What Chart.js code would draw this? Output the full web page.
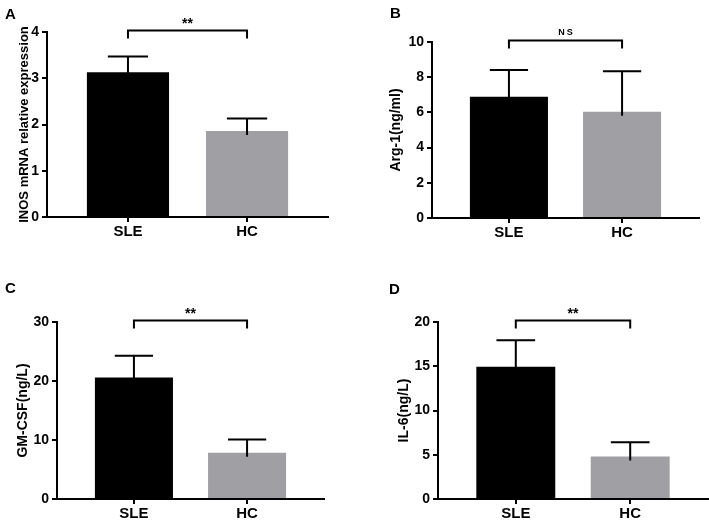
<!DOCTYPE html>
<html>
<head>
<meta charset="utf-8">
<script src="https://cdn.jsdelivr.net/npm/chart.js@4.4.1/dist/chart.umd.min.js"></script>
<style>
  html, body { margin: 0; padding: 0; background: #fff; }
  #wrap { position: relative; width: 709px; height: 521px; overflow: hidden; }
  #wrap canvas { position: absolute; }
</style>
</head>
<body>
<div id="wrap">
  <canvas id="cA" width="354" height="260" style="left:0;top:0"></canvas>
  <canvas id="cB" width="355" height="260" style="left:354px;top:0"></canvas>
  <canvas id="cC" width="354" height="261" style="left:0;top:260px"></canvas>
  <canvas id="cD" width="355" height="261" style="left:354px;top:260px"></canvas>
</div>
<script>
// data (mean and upper error)
const categories = ['SLE', 'HC'];

const inosMean = [3.13, 1.86];
const inosErr = [0.34, 0.27];
const inosTicks = [0, 1, 2, 3, 4];

const arg1Mean = [6.89, 6.04];
const arg1Err = [1.52, 2.3];
const arg1Ticks = [0, 2, 4, 6, 8, 10];

const gmcsfMean = [20.6, 7.85];
const gmcsfErr = [3.7, 2.25];
const gmcsfTicks = [0, 10, 20, 30];

const il6Mean = [14.95, 4.8];
const il6Err = [3.0, 1.6];
const il6Ticks = [0, 5, 10, 15, 20];

const barColors = ['#000000', '#a0a0a4'];

Chart.defaults.font.family = "'Liberation Sans', Arial, sans-serif";
Chart.defaults.font.weight = 'bold';
Chart.defaults.color = '#000';

// upward error bars with caps
const errorBars = {
  id: 'errorBars',
  afterDatasetsDraw(chart) {
    const ctx = chart.ctx;
    const y = chart.scales.y;
    const ds = chart.data.datasets[0];
    const meta = chart.getDatasetMeta(0);
    ctx.save();
    ctx.strokeStyle = '#000';
    ctx.lineWidth = 2;
    meta.data.forEach((bar, i) => {
      const top = y.getPixelForValue(ds.data[i].y + ds.errors[i]);
      const cap = bar.width * 0.49;
      ctx.beginPath();
      ctx.moveTo(bar.x, bar.y + 4);
      ctx.lineTo(bar.x, top);
      ctx.moveTo(bar.x - cap / 2, top);
      ctx.lineTo(bar.x + cap / 2, top);
      ctx.stroke();
    });
    ctx.restore();
  }
};

function makePanel(p) {
  // significance bracket + panel letter
  const extras = {
    id: 'extras',
    afterDraw(chart) {
      const ctx = chart.ctx;
      const y = chart.scales.y;
      const meta = chart.getDatasetMeta(0);
      const x1 = meta.data[0].x, x2 = meta.data[1].x;
      const by = y.getPixelForValue(p.ticks[p.ticks.length - 1]) - 1.5;
      ctx.save();
      ctx.strokeStyle = '#000';
      ctx.lineWidth = 2;
      ctx.beginPath();
      ctx.moveTo(x1, by + 8);
      ctx.lineTo(x1, by);
      ctx.lineTo(x2, by);
      ctx.lineTo(x2, by + 8);
      ctx.stroke();
      ctx.fillStyle = '#000';
      ctx.textAlign = 'center';
      ctx.textBaseline = 'alphabetic';
      if (p.mark === 'NS') {
        ctx.font = "bold 9px 'Liberation Sans', Arial, sans-serif";
        ctx.letterSpacing = '2px';
        ctx.fillText(p.mark, (x1 + x2) / 2 + 1, by - 6);
        ctx.letterSpacing = '0px';
      } else {
        ctx.font = "bold 14px 'Liberation Sans', Arial, sans-serif";
        ctx.fillText(p.mark, (x1 + x2) / 2, by - 3);
      }
      ctx.textAlign = 'left';
      ctx.font = "bold 15px 'Liberation Sans', Arial, sans-serif";
      ctx.fillText(p.letter, p.letterPos[0], p.letterPos[1]);
      ctx.restore();
    }
  };

  return new Chart(document.getElementById(p.id), {
    type: 'bar',
    data: {
      datasets: [{
        data: p.means.map((v, i) => ({ x: i + 1, y: v })),
        errors: p.errs,
        backgroundColor: barColors,
        borderWidth: 0,
        barPercentage: 0.69,
        categoryPercentage: 1
      }]
    },
    options: {
      responsive: false,
      animation: false,
      devicePixelRatio: 1,
      layout: { padding: p.pad },
      plugins: { legend: { display: false }, tooltip: { enabled: false } },
      scales: {
        x: {
          type: 'linear',
          offset: false,
          min: 0.32,
          max: 2.68,
          afterBuildTicks: s => { s.ticks = categories.map((c, i) => ({ value: i + 1 })); },
          afterFit: s => { s.height = 22; },
          ticks: {
            callback: (v, i) => categories[i],
            font: { size: 15, weight: 'bold' },
            padding: 1,
            maxRotation: 0,
            autoSkip: false
          },
          grid: { offset: false, drawOnChartArea: false, drawTicks: true, tickLength: 5, color: '#000', lineWidth: 2 },
          border: { color: '#000', width: 2 }
        },
        y: {
          min: p.ticks[0],
          max: p.ticks[p.ticks.length - 1],
          afterBuildTicks: s => { s.ticks = p.ticks.map(v => ({ value: v })); },
          afterFit: s => { s.width = p.yWidth; },
          ticks: { font: { size: 14, weight: 'bold' }, padding: 3 },
          grid: { drawOnChartArea: false, drawTicks: true, tickLength: 5, color: '#000', lineWidth: 2 },
          border: { color: '#000', width: 2 },
          title: {
            display: true,
            text: p.title,
            font: { size: p.titleSize, weight: 'bold' },
            padding: { top: p.titlePad, bottom: 0 }
          }
        }
      }
    },
    plugins: [errorBars, extras]
  });
}

makePanel({ id: 'cA', letter: 'A', letterPos: [5, 19], title: 'INOS mRNA relative expression', titleSize: 13, titlePad: 17,
  yWidth: 47, pad: { top: 32, right: 26, bottom: 21, left: 0 }, means: inosMean, errs: inosErr, ticks: inosTicks, mark: '**' });
makePanel({ id: 'cB', letter: 'B', letterPos: [36, 18], title: 'Arg-1(ng/ml)', titleSize: 14, titlePad: 34,
  yWidth: 78, pad: { top: 42, right: 10, bottom: 20, left: 0 }, means: arg1Mean, errs: arg1Err, ticks: arg1Ticks, mark: 'NS' });
makePanel({ id: 'cC', letter: 'C', letterPos: [5, 33], title: 'GM-CSF(ng/L)', titleSize: 14, titlePad: 15,
  yWidth: 57, pad: { top: 62, right: 30, bottom: 0, left: 0 }, means: gmcsfMean, errs: gmcsfErr, ticks: gmcsfTicks, mark: '**' });
makePanel({ id: 'cD', letter: 'D', letterPos: [35, 34], title: 'IL-6(ng/L)', titleSize: 14, titlePad: 42,
  yWidth: 84, pad: { top: 62, right: 1, bottom: 0, left: 0 }, means: il6Mean, errs: il6Err, ticks: il6Ticks, mark: '**' });
</script>
</body>
</html>
